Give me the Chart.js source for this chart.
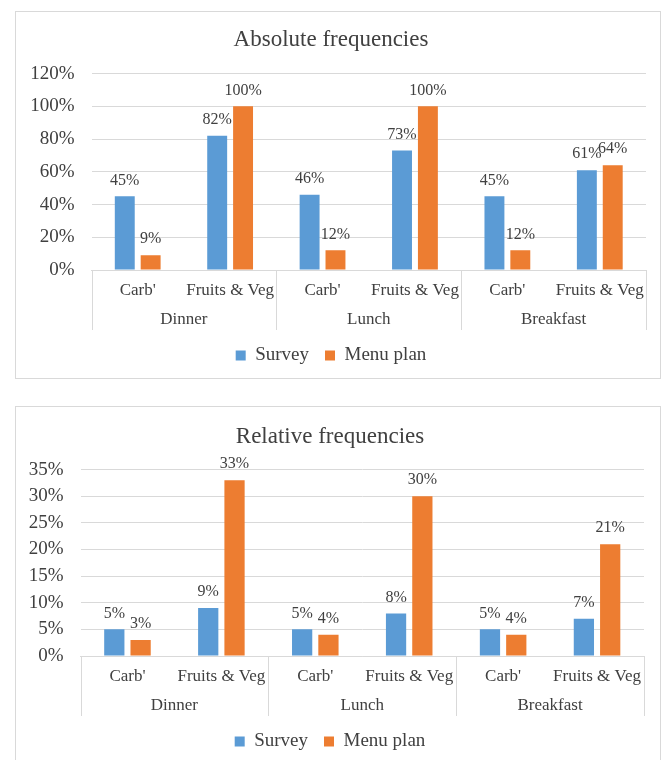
<!DOCTYPE html>
<html>
<head>
<meta charset="utf-8">
<script src="https://cdn.jsdelivr.net/npm/chart.js@4.4.1/dist/chart.umd.min.js"></script>
<style>
  html, body { margin: 0; padding: 0; background: #ffffff; width: 664px; height: 760px; overflow: hidden; }
  .box { position: absolute; border: 1px solid #d9d9d9; background: #fff; }
  #box1 { left: 15px; top: 11px; width: 644px; height: 366px; }
  #box2 { left: 15px; top: 406px; width: 644px; height: 380px; }
  canvas { display: block; }
</style>
</head>
<body>
<div class="box" id="box1"><canvas id="c1" width="644" height="366"></canvas></div>
<div class="box" id="box2"><canvas id="c2" width="644" height="357"></canvas></div>
<script>
const categories = ["Carb'", "Fruits & Veg", "Carb'", "Fruits & Veg", "Carb'", "Fruits & Veg"];
const groups = ["Dinner", "Lunch", "Breakfast"];
const seriesNames = ["Survey", "Menu plan"];
const absSurvey = [45, 82, 46, 73, 45, 61];
const absMenu = [9, 100, 12, 100, 12, 64];
const relSurvey = [5, 9, 5, 8, 5, 7];
const relMenu = [3, 33, 4, 30, 4, 21];
const absTickMax = 120, absTickStep = 20;
const relTickMax = 35, relTickStep = 5;

const FONT = "'Liberation Serif', 'Times New Roman', serif";
const TEXT = '#404040';
const GRID = '#d9d9d9';
const BLUE = '#5b9bd5';
const ORANGE = '#ed7d31';

const valueLabels = {
  id: 'valueLabels',
  afterDatasetsDraw(chart) {
    const ctx = chart.ctx;
    ctx.save();
    ctx.font = '16px ' + FONT;
    ctx.fillStyle = TEXT;
    ctx.textAlign = 'center';
    ctx.textBaseline = 'middle';
    chart.data.datasets.forEach((ds, di) => {
      chart.getDatasetMeta(di).data.forEach((bar, i) => {
        ctx.fillText(ds.data[i] + '%', bar.x, bar.y - 16);
      });
    });
    ctx.restore();
  }
};

const groupSeparators = {
  id: 'groupSeparators',
  afterDraw(chart) {
    const xs = chart.scales.x, x2 = chart.scales.x2;
    const n = groups.length;
    const ctx = chart.ctx;
    ctx.save();
    ctx.strokeStyle = GRID;
    ctx.lineWidth = 1;
    for (let i = 0; i <= n; i++) {
      const px = Math.round(xs.left + i * (xs.right - xs.left) / n) + 0.5;
      ctx.beginPath();
      ctx.moveTo(px, xs.top);
      ctx.lineTo(px, x2.bottom);
      ctx.stroke();
    }
    ctx.restore();
  }
};

function makeChart(id, title, survey, menu, tMax, tStep, yWidth, padRight, titleTop, titleBottom) {
  return new Chart(document.getElementById(id), {
    type: 'bar',
    data: {
      labels: categories,
      datasets: [
        { label: seriesNames[0], data: survey, backgroundColor: BLUE, categoryPercentage: 0.56, barPercentage: 0.77 },
        { label: seriesNames[1], data: menu, backgroundColor: ORANGE, categoryPercentage: 0.56, barPercentage: 0.77 }
      ]
    },
    options: {
      responsive: false,
      animation: false,
      layout: { padding: { left: 0, right: padRight, top: 0, bottom: 3 } },
      plugins: {
        title: {
          display: true, text: title, color: TEXT,
          font: { family: FONT, size: 23, weight: 'normal' },
          padding: { top: titleTop, bottom: titleBottom }
        },
        legend: {
          position: 'bottom',
          labels: {
            color: TEXT, boxWidth: 10, boxHeight: 10,
            font: { family: FONT, size: 19 }, padding: 16
          }
        },
        tooltip: { enabled: false }
      },
      scales: {
        y: {
          min: 0, max: tMax,
          ticks: { stepSize: tStep, color: TEXT, font: { family: FONT, size: 19 }, padding: 17, callback: v => v + '%' },
          grid: { color: GRID, drawTicks: false },
          border: { display: false },
          afterFit: s => { s.width = yWidth; }
        },
        x: {
          ticks: { color: TEXT, font: { family: FONT, size: 17 }, padding: 10, maxRotation: 0, autoSkip: false },
          grid: { display: false, drawTicks: false },
          border: { display: true, color: GRID },
          afterFit: s => { s.height = 30; }
        },
        x2: {
          type: 'category', labels: groups, position: 'bottom', offset: true,
          ticks: { color: TEXT, font: { family: FONT, size: 17 }, padding: 9, maxRotation: 0, autoSkip: false },
          grid: { display: false, drawTicks: false },
          border: { display: false },
          afterFit: s => { s.height = 30; }
        }
      }
    },
    plugins: [valueLabels, groupSeparators]
  });
}

makeChart('c1', 'Absolute frequencies', absSurvey, absMenu, absTickMax, absTickStep, 75.5, 14, 14, 20);
makeChart('c2', 'Relative frequencies', relSurvey, relMenu, relTickMax, relTickStep, 64.5, 16, 16, 19);
</script>
</body>
</html>
